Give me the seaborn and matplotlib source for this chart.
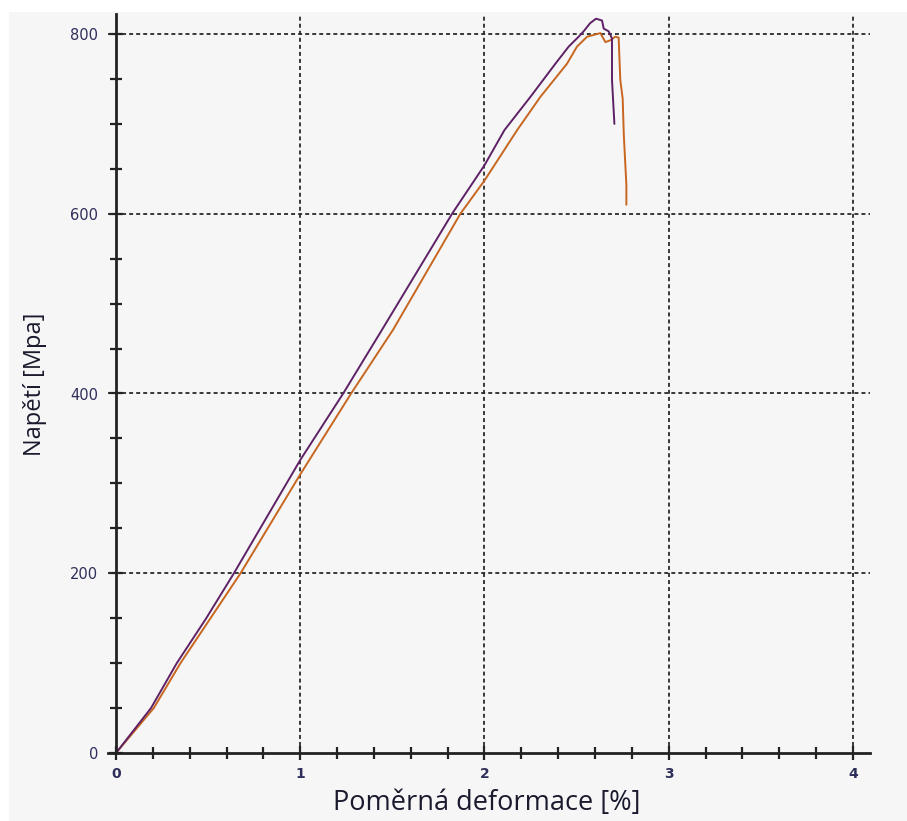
import numpy as np
import pandas as pd
import matplotlib
matplotlib.use("Agg")
import matplotlib.pyplot as plt
from matplotlib.ticker import MultipleLocator
from matplotlib.patches import Rectangle
import seaborn as sns

# Tensile test curves: strain [%] vs. stress [MPa]
strain_a = [0, 0.19, 0.33, 0.49, 0.64, 1.0, 1.233, 1.444, 1.824, 2.0, 2.108, 2.249,
            2.385, 2.457, 2.511, 2.538, 2.573, 2.605, 2.638, 2.647, 2.674, 2.692,
            2.692, 2.705]
stress_a = [0, 50, 100, 150, 200, 326, 400, 471, 600, 654, 693, 730,
            767, 786, 797, 803, 812, 817, 815, 806, 803, 795,
            749, 700]

strain_b = [0, 0.205, 0.35, 0.513, 0.676, 1.0, 1.276, 1.504, 1.869, 2.0, 2.177, 2.303,
            2.448, 2.502, 2.557, 2.629, 2.656, 2.683, 2.71, 2.728, 2.737, 2.75,
            2.756, 2.77, 2.77]
stress_b = [0, 50, 100, 150, 200, 310, 400, 471, 600, 637, 693, 730,
            767, 786, 797, 801, 791, 793, 797, 796, 749, 728,
            688, 632, 610]

x_major = [0, 1, 2, 3, 4]
y_major = [0, 200, 400, 600, 800]

color_a = "#5e2166"
color_b = "#c7661f"
bg = "#f6f6f6"

sns.set_style("white")
plt.rcParams["font.family"] = ["DejaVu Sans"]

W, H = 907, 821
fig = plt.figure(figsize=(W / 100, H / 100), dpi=100, facecolor="white")
fig.patches.append(Rectangle((9 / W, 0), 1, 1 - 12 / H, transform=fig.transFigure,
                             facecolor=bg, edgecolor="none", zorder=-10))

left, right, bottom, top = 108, 870, 753, 14
ax = fig.add_axes([left / W, (H - bottom) / H, (right - left) / W, (bottom - top) / H])
ax.set_facecolor(bg)

df_a = pd.DataFrame({"strain": strain_a, "stress": stress_a})
df_b = pd.DataFrame({"strain": strain_b, "stress": stress_b})
sns.lineplot(data=df_b, x="strain", y="stress", sort=False, estimator=None,
             color=color_b, linewidth=1.4, ax=ax, zorder=3)
sns.lineplot(data=df_a, x="strain", y="stress", sort=False, estimator=None,
             color=color_a, linewidth=1.4, ax=ax, zorder=4)

px_x = (853 - 116) / 4.0
px_y = (753 - 34) / 800.0
ax.set_xlim(-(116 - left) / px_x, 4 + (right - 853) / px_x)
ax.set_ylim(0, 800 + (34 - top) / px_y)

ax.spines["top"].set_visible(False)
ax.spines["right"].set_visible(False)
ax.spines["left"].set_position(("data", 0))
for s in ("left", "bottom"):
    ax.spines[s].set_linewidth(2.0)
    ax.spines[s].set_color("#222222")
    ax.spines[s].set_zorder(5)

ax.set_xticks(x_major)
ax.set_yticks(y_major)
ax.xaxis.set_minor_locator(MultipleLocator(0.2))
ax.yaxis.set_minor_locator(MultipleLocator(50))
ax.tick_params(which="both", bottom=True, left=True, top=False, right=False)
ax.tick_params(which="major", direction="inout", length=10, width=1.6, color="#222222")
ax.tick_params(which="minor", direction="inout", length=8, width=1.6, color="#222222")
ax.tick_params(axis="x", which="major", pad=5)
ax.tick_params(axis="y", which="major", pad=8)
for lab in ax.get_xticklabels():
    lab.set_fontsize(10)
    lab.set_fontweight("bold")
    lab.set_color("#2e2e5a")
for lab in ax.get_yticklabels():
    lab.set_fontsize(10.5)
    lab.set_color("#2e2e5a")

# dashed reference grid at major ticks (excluding the axes themselves)
for xv in x_major[1:]:
    ax.axvline(xv, color="#2a2a2a", linewidth=1.3, linestyle=(0, (2.2, 1.7)), zorder=2)
for yv in y_major[1:]:
    ax.axhline(yv, color="#2a2a2a", linewidth=1.3, linestyle=(0, (2.2, 1.7)), zorder=2)

ax.set_xlabel("")
ax.set_ylabel("")
fig.text(487 / W, 1 - 803 / H, "Poměrná deformace [%]", ha="center", va="center",
         fontsize=19.5, color="#1a1a2e", family=["Open Sans", "DejaVu Sans"])
fig.text(35 / W, 1 - 384 / H, "Napětí [Mpa]", ha="center", va="center", rotation=90,
         fontsize=17, color="#1a1a2e", family=["Open Sans", "DejaVu Sans"])

fig.savefig("out.png", dpi=100, facecolor=fig.get_facecolor())
